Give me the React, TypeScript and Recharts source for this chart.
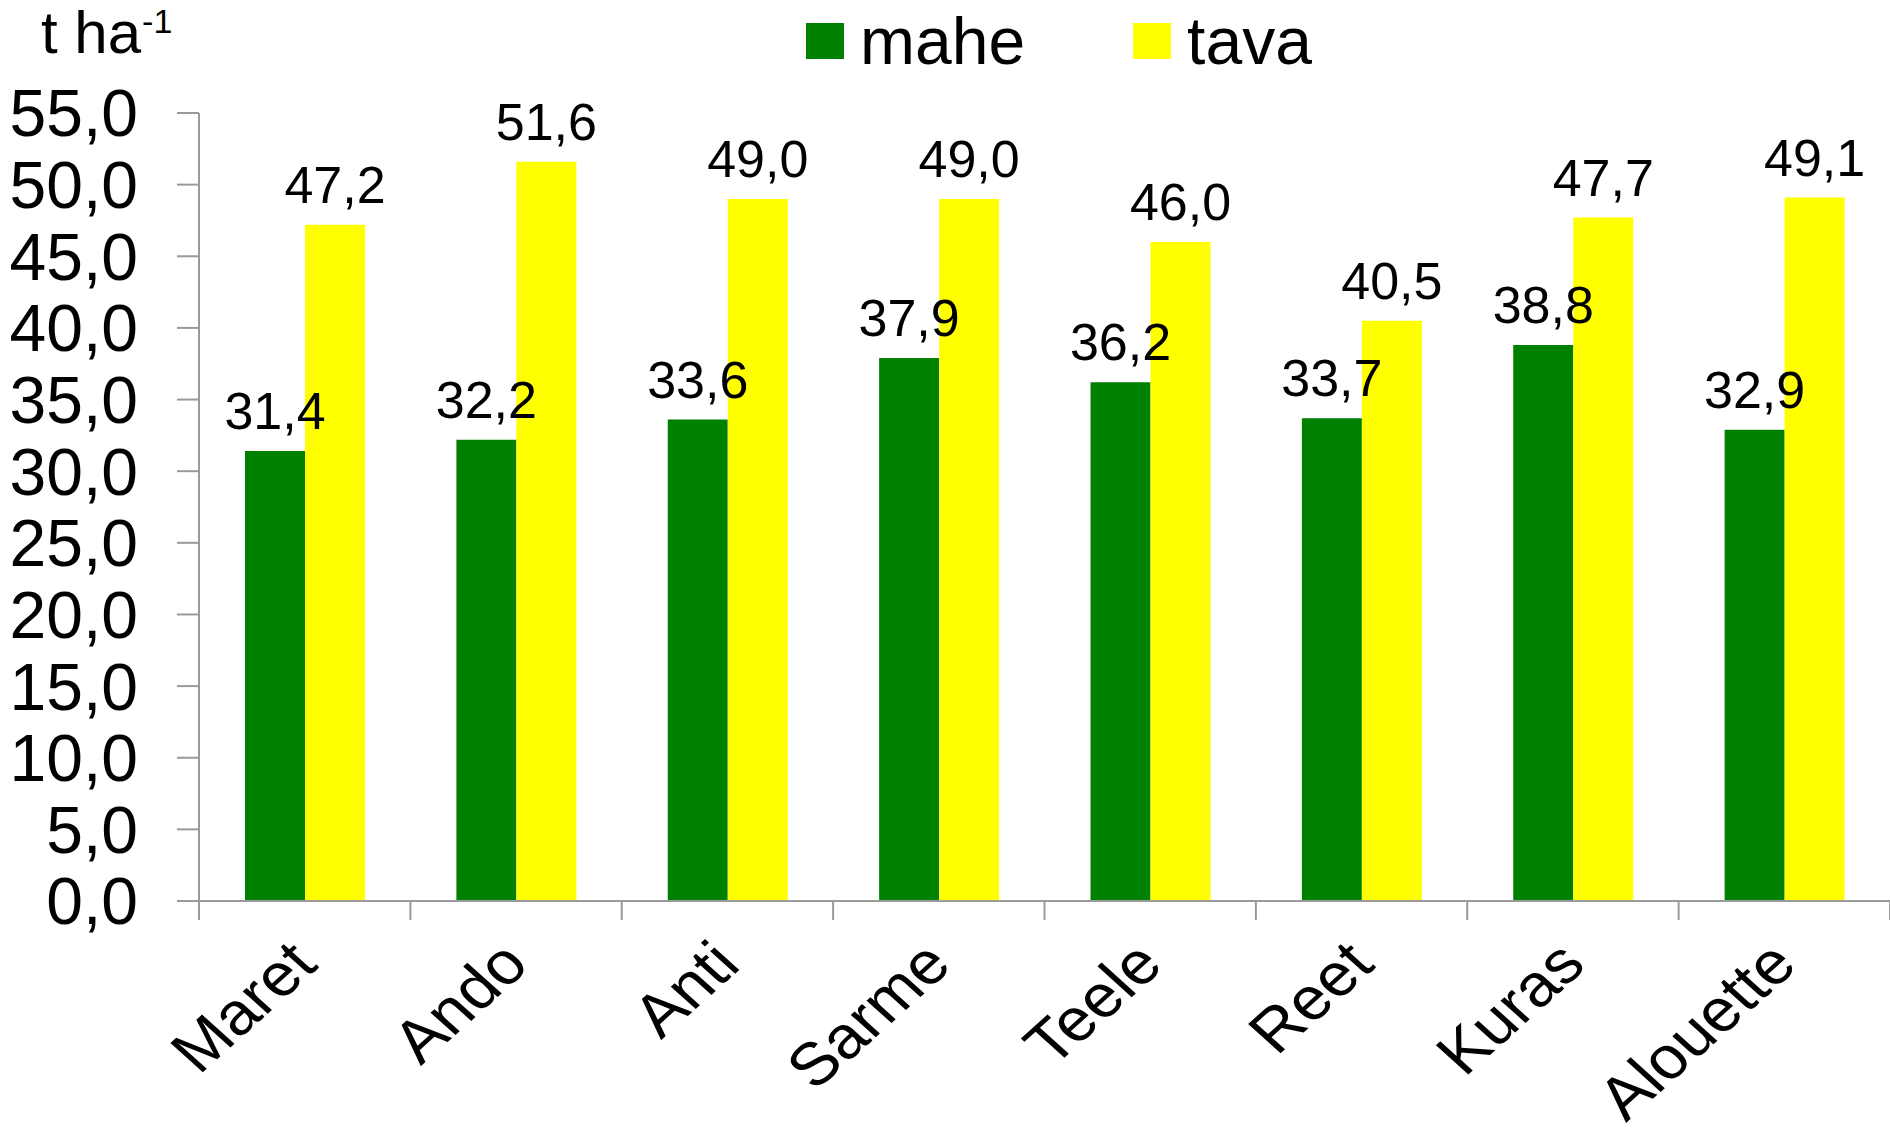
import { BarChart, Bar, XAxis, YAxis, LabelList } from "recharts";

const sorts = ["Maret", "Ando", "Anti", "Sarme", "Teele", "Reet", "Kuras", "Alouette"];
const mahe = [31.4, 32.2, 33.6, 37.9, 36.2, 33.7, 38.8, 32.9];
const tava = [47.2, 51.6, 49.0, 49.0, 46.0, 40.5, 47.7, 49.1];
const yTicks = [0, 5, 10, 15, 20, 25, 30, 35, 40, 45, 50, 55];
const seriesNames = ["mahe", "tava"];
const seriesColors = ["#008000", "#ffff00"];

const data = sorts.map((s, i) => ({ sort: s, mahe: mahe[i], tava: tava[i] }));

const FONT = "'Liberation Sans', Arial, sans-serif";
const AXIS = "#9a9a9a";
const CHART_W = 1890;
const Y_AXIS_W = 199;
const fmt = (v: number) => v.toFixed(1).replace(".", ",");

// category label plus the Excel-style tick marks on the category boundaries
function SortTick({ x, y, payload, index, visibleTicksCount, width }: any) {
  const count = visibleTicksCount || sorts.length;
  const band = (width || CHART_W - Y_AXIS_W) / count;
  const left = x - band / 2;
  return (
    <g>
      <line x1={left} x2={left} y1={y} y2={y + 19} stroke={AXIS} strokeWidth={2} />
      {index === count - 1 && (
        <line x1={left + band} x2={left + band} y1={y} y2={y + 19} stroke={AXIS} strokeWidth={2} />
      )}
      {/* source picture is slightly stretched sideways */}
      <g transform={`translate(${x + 15},${y + 66}) scale(1.06,0.955)`}>
        <text
          transform="rotate(-45)"
          textAnchor="end"
          fontSize={63}
          fontFamily={FONT}
          fill="#000"
        >
          {payload.value}
        </text>
      </g>
    </g>
  );
}

function UnitLabel() {
  return (
    <text x={41} y={53} fontSize={60} fontFamily={FONT} fill="#000">
      t ha
      <tspan fontSize={34} dy={-20} dx={1}>
        -1
      </tspan>
    </text>
  );
}

export default function App() {
  return (
    <div style={{ position: "absolute", left: 0, top: 0, width: CHART_W, height: 1132, background: "#fff" }}>
      <BarChart
        width={CHART_W}
        height={1132}
        data={data}
        margin={{ top: 113, right: 0, bottom: 0, left: 0 }}
        barGap={0}
      >
        <XAxis
          dataKey="sort"
          height={231}
          tickSize={0}
          tickMargin={0}
          tickLine={false}
          axisLine={{ stroke: AXIS, strokeWidth: 2 }}
          tick={<SortTick />}
          interval={0}
        />
        <YAxis
          width={Y_AXIS_W}
          domain={[0, 55]}
          ticks={yTicks}
          interval={0}
          tickFormatter={fmt}
          tickSize={22}
          tickMargin={39}
          axisLine={{ stroke: AXIS, strokeWidth: 2 }}
          tickLine={{ stroke: AXIS, strokeWidth: 2 }}
          tick={{ fontSize: 66, fill: "#000", fontFamily: FONT }}
          label={<UnitLabel />}
        />
        {seriesNames.map((name, i) => (
          <Bar
            key={name}
            dataKey={name}
            fill={seriesColors[i]}
            barSize={60}
            isAnimationActive={false}
          >
            <LabelList
              dataKey={name}
              position="top"
              offset={22}
              formatter={(v: any) => fmt(Number(v))}
              fontSize={52}
              fontFamily={FONT}
              fill="#000"
            />
          </Bar>
        ))}
      </BarChart>
      <div
        style={{
          position: "absolute",
          top: 8,
          left: 806,
          display: "flex",
          alignItems: "center",
          fontFamily: FONT,
          fontSize: 66,
          color: "#000",
          lineHeight: "66px",
        }}
      >
        {seriesNames.map((name, i) => (
          <div key={name} style={{ display: "flex", alignItems: "center", marginRight: i === 0 ? 108 : 0 }}>
            <span style={{ display: "inline-block", width: 38, height: 36, background: seriesColors[i], marginRight: 16 }} />
            <span>{name}</span>
          </div>
        ))}
      </div>
    </div>
  );
}
